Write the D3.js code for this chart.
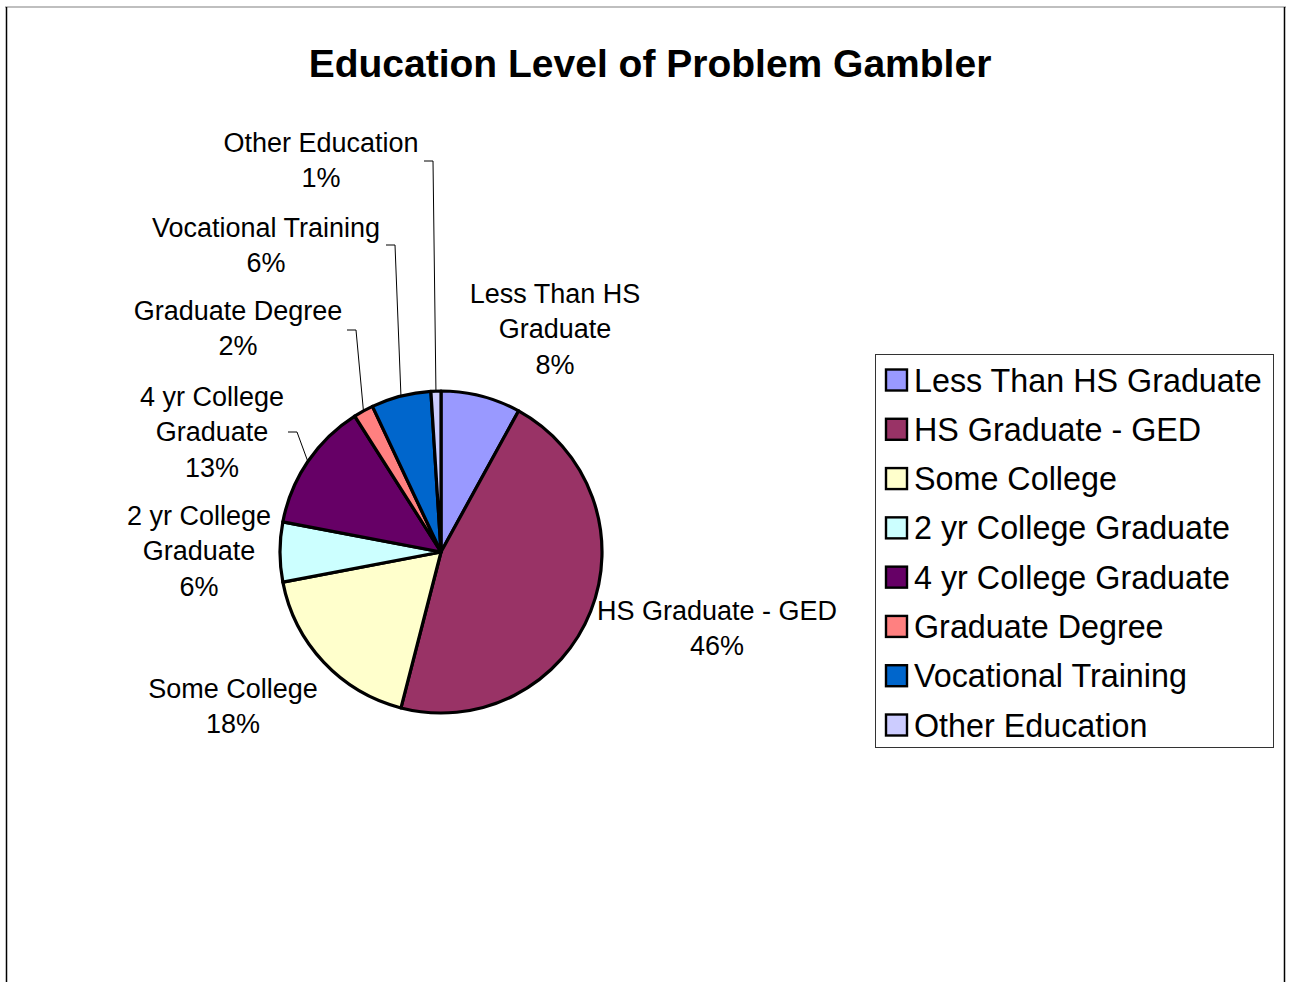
<!DOCTYPE html>
<html>
<head>
<meta charset="utf-8">
<script src="https://cdn.jsdelivr.net/npm/d3@7"></script>
<style>
  html, body { margin: 0; padding: 0; background: #fff; }
  svg { display: block; font-family: "Liberation Sans", Arial, sans-serif; }
</style>
</head>
<body>
<svg id="chart" width="1290" height="982"></svg>
<script>
// Education level breakdown (percent of respondents)
const categories = [
  "Less Than HS Graduate",
  "HS Graduate - GED",
  "Some College",
  "2 yr College Graduate",
  "4 yr College Graduate",
  "Graduate Degree",
  "Vocational Training",
  "Other Education"
];
const values = [8, 46, 18, 6, 13, 2, 6, 1];
const colors = ["#9999FF", "#993366", "#FFFFCC", "#CCFFFF", "#660066", "#FF8080", "#0066CC", "#CCCCFF"];

// Multi-line slice labels (the last line is the percentage)
const labelLines = [
  ["Less Than HS", "Graduate"],
  ["HS Graduate - GED"],
  ["Some College"],
  ["2 yr College", "Graduate"],
  ["4 yr College", "Graduate"],
  ["Graduate Degree"],
  ["Vocational Training"],
  ["Other Education"]
];

const title = "Education Level of Problem Gambler";

// ---- layout ----
const W = 1290, H = 982;
const cx = 441, cy = 552, R = 161;
const lineH = 35.3;
// label block: centre x and first baseline y
const labelPos = [
  { x: 555, y: 303 },
  { x: 717, y: 620 },
  { x: 233, y: 698 },
  { x: 199, y: 525 },
  { x: 212, y: 406 },
  { x: 238, y: 320 },
  { x: 266, y: 237 },
  { x: 321, y: 152 }
];
// leader lines: horizontal stub [x0, x1, y] (null = no leader)
const leaders = [null, null, null, null,
  [288, 297, 432],
  [347, 356, 330],
  [386, 395, 245],
  [424, 433, 161]
];

const svg = d3.select("#chart");

// outer frame
svg.append("line").attr("x1", 5).attr("x2", 1286).attr("y1", 7).attr("y2", 7)
  .attr("stroke", "#aaaaaa").attr("stroke-width", 1.5);
svg.append("line").attr("x1", 6.5).attr("x2", 6.5).attr("y1", 7).attr("y2", H)
  .attr("stroke", "#000").attr("stroke-width", 1.5);
svg.append("line").attr("x1", 1284.5).attr("x2", 1284.5).attr("y1", 7).attr("y2", H)
  .attr("stroke", "#000").attr("stroke-width", 1.5);

// title
svg.append("text")
  .attr("x", 650).attr("y", 77)
  .attr("text-anchor", "middle")
  .attr("font-size", 39).attr("font-weight", "bold")
  .attr("fill", "#000")
  .text(title);

// pie
const pie = d3.pie().sort(null).value(d => d)
  .startAngle(0).endAngle(2 * Math.PI);
const arcs = pie(values);
const arc = d3.arc().innerRadius(0).outerRadius(R);

const g = svg.append("g").attr("transform", `translate(${cx},${cy})`);
g.selectAll("path.slice")
  .data(arcs)
  .join("path")
  .attr("class", "slice")
  .attr("d", arc)
  .attr("fill", (d, i) => colors[i])
  .attr("stroke", "#000")
  .attr("stroke-width", 3.2)
  .attr("stroke-linejoin", "round");

// leader lines from label to slice rim
arcs.forEach((a, i) => {
  const L = leaders[i];
  if (!L) return;
  const mid = (a.startAngle + a.endAngle) / 2;
  const rx = cx + R * Math.sin(mid);
  const ry = cy - R * Math.cos(mid);
  svg.append("path")
    .attr("d", `M${L[0]},${L[2]} L${L[1]},${L[2]} L${rx},${ry}`)
    .attr("fill", "none")
    .attr("stroke", "#000")
    .attr("stroke-width", 1);
});

// slice labels
const fmt = v => d3.format(".0f")(v) + "%";
labelLines.forEach((lines, i) => {
  const all = lines.concat([fmt(values[i])]);
  const t = svg.append("text")
    .attr("text-anchor", "middle")
    .attr("font-size", 27)
    .attr("fill", "#000");
  all.forEach((s, k) => {
    t.append("tspan")
      .attr("x", labelPos[i].x)
      .attr("y", labelPos[i].y + k * lineH)
      .text(s);
  });
});

// legend
const lg = svg.append("g");
lg.append("rect")
  .attr("x", 875.5).attr("y", 354.5)
  .attr("width", 398).attr("height", 393)
  .attr("fill", "#fff").attr("stroke", "#333").attr("stroke-width", 1);
const rowY = d3.scalePoint().domain(categories).range([380, 725]);
categories.forEach((c, i) => {
  const y = rowY(c);
  lg.append("rect")
    .attr("x", 886).attr("y", y - 10.5)
    .attr("width", 21).attr("height", 21)
    .attr("fill", colors[i])
    .attr("stroke", "#000").attr("stroke-width", 2.4);
  lg.append("text")
    .attr("x", 914).attr("y", y + 11.5)
    .attr("font-size", 32.3)
    .attr("fill", "#000")
    .text(c);
});
</script>
</body>
</html>
